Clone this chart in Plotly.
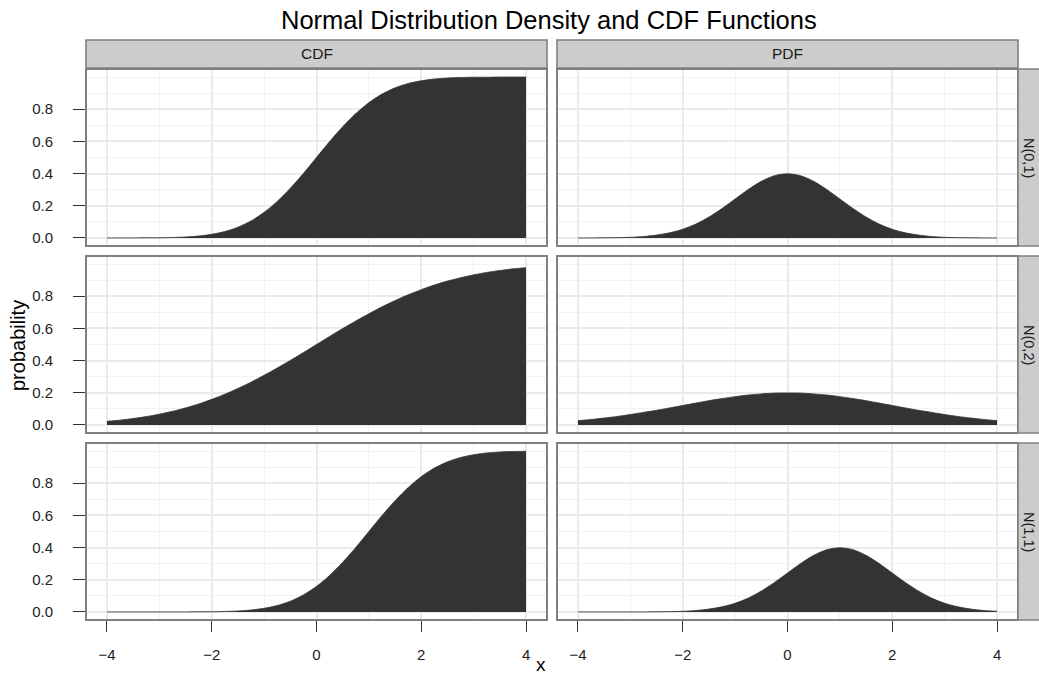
import plotly.graph_objects as go

# ---------------- data ----------------
x_vals = [-4.0, -3.75, -3.5, -3.25, -3.0, -2.75, -2.5, -2.25, -2.0, -1.75, -1.5, -1.25,
          -1.0, -0.75, -0.5, -0.25, 0.0, 0.25, 0.5, 0.75, 1.0, 1.25, 1.5, 1.75,
          2.0, 2.25, 2.5, 2.75, 3.0, 3.25, 3.5, 3.75, 4.0]

cdf_n01 = [0.000, 0.000, 0.000, 0.001, 0.001, 0.003, 0.006, 0.012, 0.023, 0.040, 0.067, 0.106,
           0.159, 0.227, 0.309, 0.401, 0.500, 0.599, 0.691, 0.773, 0.841, 0.894, 0.933, 0.960,
           0.977, 0.988, 0.994, 0.997, 0.999, 0.999, 1.000, 1.000, 1.000]
pdf_n01 = [0.000, 0.000, 0.001, 0.002, 0.004, 0.009, 0.018, 0.032, 0.054, 0.086, 0.130, 0.183,
           0.242, 0.301, 0.352, 0.387, 0.399, 0.387, 0.352, 0.301, 0.242, 0.183, 0.130, 0.086,
           0.054, 0.032, 0.018, 0.009, 0.004, 0.002, 0.001, 0.000, 0.000]

cdf_n02 = [0.023, 0.030, 0.040, 0.052, 0.067, 0.085, 0.106, 0.130, 0.159, 0.191, 0.227, 0.266,
           0.309, 0.354, 0.401, 0.450, 0.500, 0.550, 0.599, 0.646, 0.691, 0.734, 0.773, 0.809,
           0.841, 0.870, 0.894, 0.915, 0.933, 0.948, 0.960, 0.970, 0.977]
pdf_n02 = [0.027, 0.034, 0.043, 0.053, 0.065, 0.078, 0.091, 0.106, 0.121, 0.136, 0.151, 0.164,
           0.176, 0.186, 0.193, 0.198, 0.199, 0.198, 0.193, 0.186, 0.176, 0.164, 0.151, 0.136,
           0.121, 0.106, 0.091, 0.078, 0.065, 0.053, 0.043, 0.034, 0.027]

cdf_n11 = [0.000, 0.000, 0.000, 0.000, 0.000, 0.000, 0.000, 0.001, 0.001, 0.003, 0.006, 0.012,
           0.023, 0.040, 0.067, 0.106, 0.159, 0.227, 0.309, 0.401, 0.500, 0.599, 0.691, 0.773,
           0.841, 0.894, 0.933, 0.960, 0.977, 0.988, 0.994, 0.997, 0.999]
pdf_n11 = [0.000, 0.000, 0.000, 0.000, 0.000, 0.000, 0.001, 0.002, 0.004, 0.009, 0.018, 0.032,
           0.054, 0.086, 0.130, 0.183, 0.242, 0.301, 0.352, 0.387, 0.399, 0.387, 0.352, 0.301,
           0.242, 0.183, 0.130, 0.086, 0.054, 0.032, 0.018, 0.009, 0.004]

col_labels = ["CDF", "PDF"]
row_labels = ["N(0,1)", "N(0,2)", "N(1,1)"]
series = [[cdf_n01, pdf_n01], [cdf_n02, pdf_n02], [cdf_n11, pdf_n11]]

x_tickvals = [-4, -2, 0, 2, 4]
x_ticktext = ["\u22124", "\u22122", "0", "2", "4"]
y_tickvals = [0.0, 0.2, 0.4, 0.6, 0.8]
y_ticktext = ["0.0", "0.2", "0.4", "0.6", "0.8"]

title_text = "Normal Distribution Density and CDF Functions"
x_title = "x"
y_title = "probability"

# ---------------- layout geometry (pixels) ----------------
W, H = 1039, 675
FONT = "Liberation Sans, Arial, Helvetica, sans-serif"
col_px = [(86, 547), (557, 1018)]
row_px = [(69, 246), (256, 433), (443, 620)]
strip_top = (40, 68)
strip_right = (1018, 1048)


def fx(p):
    return p / W


def fy(p):
    return 1 - p / H


fig = go.Figure()
layout = dict(
    width=W, height=H, autosize=False,
    margin=dict(l=0, r=0, t=0, b=0),
    paper_bgcolor="white", plot_bgcolor="white",
    showlegend=False,
    font=dict(family=FONT, color="#1a1a1a"),
)
shapes = []
annotations = []

for r in range(3):
    for c in range(2):
        k = r * 2 + c + 1
        xs = "" if k == 1 else str(k)
        fig.add_trace(go.Scatter(
            x=x_vals, y=series[r][c],
            mode="lines", line=dict(color="#333333", width=0.8, shape="spline", smoothing=0.8),
            fill="tozeroy", fillcolor="#333333",
            xaxis="x" + xs, yaxis="y" + xs, hoverinfo="skip",
        ))
        bottom = (r == 2)
        left = (c == 0)
        layout["xaxis" + xs] = dict(
            domain=[fx(col_px[c][0]), fx(col_px[c][1])],
            anchor="y" + xs, range=[-4.4, 4.4],
            tickvals=x_tickvals, ticktext=x_ticktext,
            showticklabels=bottom, ticks="outside" if bottom else "",
            ticklen=11, tickwidth=1.3, tickcolor="#333333",
            ticklabelstandoff=10,
            tickfont=dict(size=15, color="#222222", family=FONT),
            showgrid=True, gridcolor="#EAEAEA", gridwidth=1.5,
            minor=dict(tick0=0, dtick=1, showgrid=True, gridcolor="#F2F2F2", gridwidth=1.1, ticks=""),
            zeroline=False, showline=False, fixedrange=True,
        )
        layout["yaxis" + xs] = dict(
            domain=[fy(row_px[r][1]), fy(row_px[r][0])],
            anchor="x" + xs, range=[-0.05, 1.05],
            tickvals=y_tickvals, ticktext=y_ticktext,
            showticklabels=left, ticks="outside" if left else "",
            ticklen=12, tickwidth=1.3, tickcolor="#333333",
            ticklabelstandoff=17,
            tickfont=dict(size=15, color="#222222", family=FONT),
            showgrid=True, gridcolor="#EAEAEA", gridwidth=1.5,
            minor=dict(tick0=0, dtick=0.1, showgrid=True, gridcolor="#F2F2F2", gridwidth=1.1, ticks=""),
            zeroline=False, showline=False, fixedrange=True,
        )
        # panel border
        shapes.append(dict(
            type="rect", xref="paper", yref="paper", layer="above",
            x0=fx(col_px[c][0]), x1=fx(col_px[c][1]),
            y0=fy(row_px[r][1]), y1=fy(row_px[r][0]),
            line=dict(color="#808080", width=2), fillcolor="rgba(0,0,0,0)",
        ))

# top strips
for c in range(2):
    shapes.append(dict(
        type="rect", xref="paper", yref="paper", layer="above",
        x0=fx(col_px[c][0]), x1=fx(col_px[c][1]),
        y0=fy(strip_top[1]), y1=fy(strip_top[0]),
        line=dict(color="#808080", width=1.6), fillcolor="#CCCCCC",
    ))
    annotations.append(dict(
        text=col_labels[c], xref="paper", yref="paper", showarrow=False,
        x=fx((col_px[c][0] + col_px[c][1]) / 2), y=fy((strip_top[0] + strip_top[1]) / 2),
        xanchor="center", yanchor="middle",
        font=dict(size=15.5, color="#1a1a1a", family=FONT),
    ))

# right strips
for r in range(3):
    shapes.append(dict(
        type="rect", xref="paper", yref="paper", layer="above",
        x0=fx(strip_right[0]), x1=fx(strip_right[1]),
        y0=fy(row_px[r][1]), y1=fy(row_px[r][0]),
        line=dict(color="#808080", width=1.6), fillcolor="#CCCCCC",
    ))
    annotations.append(dict(
        text=row_labels[r], xref="paper", yref="paper", showarrow=False,
        x=fx(1029.5), y=fy((row_px[r][0] + row_px[r][1]) / 2),
        xanchor="center", yanchor="middle", textangle=90,
        font=dict(size=14.5, color="#1a1a1a", family=FONT),
    ))

# title and axis titles
annotations.append(dict(
    text=title_text, xref="paper", yref="paper", showarrow=False,
    x=fx(549), y=fy(20), xanchor="center", yanchor="middle",
    font=dict(size=25.5, color="black", family=FONT),
))
annotations.append(dict(
    text=x_title, xref="paper", yref="paper", showarrow=False,
    x=fx(541), y=fy(664), xanchor="center", yanchor="middle",
    font=dict(size=19, color="black", family=FONT),
))
annotations.append(dict(
    text=y_title, xref="paper", yref="paper", showarrow=False,
    x=fx(18), y=fy(346), xanchor="center", yanchor="middle", textangle=-90,
    font=dict(size=20, color="black", family=FONT),
))

layout["shapes"] = shapes
layout["annotations"] = annotations
fig.update_layout(**layout)
fig.write_html("out.html")
